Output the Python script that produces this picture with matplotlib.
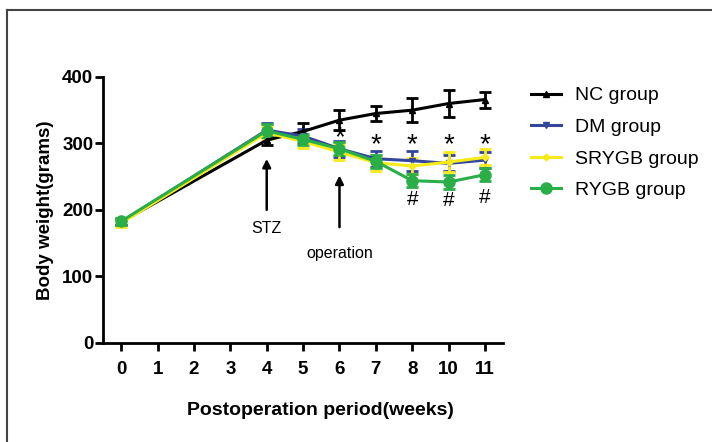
import numpy as np
import matplotlib
matplotlib.use("Agg")
import matplotlib.pyplot as plt
from matplotlib.lines import Line2D

plt.rcParams['font.family'] = ['Liberation Sans', 'DejaVu Sans']

# x positions are evenly spaced; week 9 is skipped on the axis
tick_labels = ["0", "1", "2", "3", "4", "5", "6", "7", "8", "10", "11"]
pos = [0, 4, 5, 6, 7, 8, 9, 10]

nc = [182, 305, 318, 335, 345, 350, 360, 366]
nc_err = [5, 8, 12, 15, 12, 18, 20, 12]
dm = [182, 320, 311, 292, 277, 274, 270, 275]
dm_err = [5, 10, 10, 12, 12, 15, 12, 12]
srygb = [180, 316, 303, 287, 271, 266, 272, 279]
srygb_err = [5, 10, 10, 12, 12, 12, 15, 12]
rygb = [183, 319, 306, 292, 273, 244, 242, 253]
rygb_err = [5, 10, 8, 10, 10, 10, 10, 10]

star_pos = [6, 7, 8, 9, 10]
star_y = [308, 298, 298, 298, 298]
hash_pos = [8, 9, 10]
hash_y = [216, 214, 218]

fig = plt.figure(figsize=(7.12, 4.42), dpi=100)
ax = fig.add_axes([0.1447, 0.224, 0.562, 0.602])

series = [
    ("NC group", nc, nc_err, "black", "^", 4),
    ("DM group", dm, dm_err, "#34469c", "v", 4),
    ("SRYGB group", srygb, srygb_err, "#f7ea1a", "D", 3.5),
    ("RYGB group", rygb, rygb_err, "#2aae48", "o", 8),
]
for name, vals, err, col, mk, ms in series:
    ax.errorbar(pos, vals, yerr=err, color=col, lw=2.2, marker=mk, ms=ms,
                capsize=4, capthick=2, elinewidth=2, label=name)

for p, y in zip(star_pos, star_y):
    ax.text(p, y, "*", ha="center", va="center", fontsize=20)
for p, y in zip(hash_pos, hash_y):
    ax.text(p, y, "#", ha="center", va="center", fontsize=15)

ax.annotate("", xy=(4, 281), xytext=(4, 196),
            arrowprops=dict(arrowstyle="-|>", color="black", lw=1.8, mutation_scale=12))
ax.text(4, 172, "STZ", ha="center", va="center", fontsize=11.5)
ax.annotate("", xy=(6, 256), xytext=(6, 170),
            arrowprops=dict(arrowstyle="-|>", color="black", lw=1.8, mutation_scale=12))
ax.text(6, 135, "operation", ha="center", va="center", fontsize=11.5)

ax.set_xlim(-0.5, 10.5)
ax.set_ylim(0, 400)
ax.set_xticks(range(len(tick_labels)))
ax.set_xticklabels(tick_labels)
ax.set_yticks([0, 100, 200, 300, 400])
for s in ["top", "right"]:
    ax.spines[s].set_visible(False)
for s in ["left", "bottom"]:
    ax.spines[s].set_linewidth(2)
ax.tick_params(width=2, length=6, labelsize=13.5)
ax.tick_params(axis="y", pad=1)
ax.tick_params(axis="x", pad=7)
for lab in ax.get_xticklabels() + ax.get_yticklabels():
    lab.set_fontweight("bold")
ax.set_xlabel("Postoperation period(weeks)", fontsize=14, fontweight="bold")
ax.xaxis.set_label_coords(0.543, -0.22)
ax.set_ylabel("Body weight(grams)", fontsize=13.5, fontweight="bold", labelpad=6)

handles = [Line2D([], [], color=c, lw=2.2, marker=m, ms=ms) for _, _, _, c, m, ms in series]
fig.legend(handles, [s[0] for s in series], loc="upper left",
           bbox_to_anchor=(0.73, 0.83), frameon=False, fontsize=14,
           handlelength=1.5, labelspacing=0.72, handletextpad=0.75,
           borderaxespad=0.2)

# grey frame around the figure
fig.add_artist(Line2D([0.01, 1.0], [0.977, 0.977], color="#444444", lw=1.5))
fig.add_artist(Line2D([0.01, 0.01], [0.0, 0.977], color="#444444", lw=1.5))

fig.savefig("out.png", dpi=100)
